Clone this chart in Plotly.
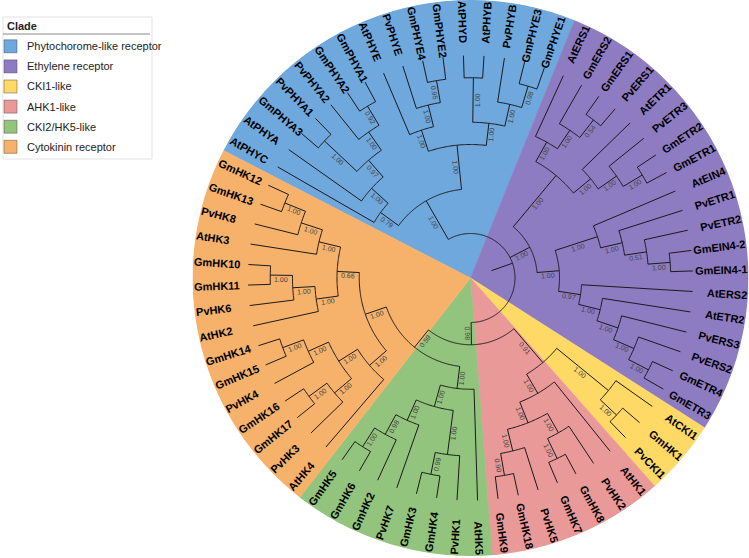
import math
import plotly.graph_objects as go

# ---------------- data ----------------
BLUE = ("((AtPHYC,(AtPHYA,((GmPHYA3,PvPHYA1)1.00,(PvPHYA2,(GmPHYA2,GmPHYA1)0.92)1.00)0.97)1.00)0.79,"
        "((AtPHYE,(PvPHYE,(GmPHYE4,GmPHYE2)0.95)1.00)1.00,((AtPHYD,AtPHYB)1.00,"
        "(PvPHYB,(GmPHYE3,GmPHYE1)0.98)1.00)1.00)1.00)1.00")
PURPLE = ("(((AtERS1,(GmERS2,(GmERS1,PvERS1)0.54)1.00)1.00,(AtETR1,(PvETR3,(GmETR2,GmETR1)1.00)1.00)1.00)1.00,"
          "((AtEIN4,(PvETR1,(PvETR2,(GmEIN4-2,GmEIN4-1)1.00)0.51)1.00)1.00,"
          "(AtERS2,(AtETR2,(PvERS3,(PvERS2,(GmETR4,GmETR3)1.00)1.00)1.00)1.00)0.97)1.00)1.00")
REST = ("(((AtCKI1,(GmHK1,PvCKI1)1.00)1.00,(AtHK1,((PvHK2,(GmHK8,GmHK7)1.00)1.00,"
        "(PvHK5,(GmHK18,GmHK9)0.90)1.00)1.00)1.00)0.91,"
        "((AtHK5,((PvHK1,(GmHK4,GmHK3)0.99)1.00,(PvHK7,(GmHK2,(GmHK6,GmHK5)1.00)0.98)1.00)1.00)1.00,"
        "((AtHK4,((PvHK3,(GmHK17,GmHK16)1.00)1.00,(PvHK4,(GmHK15,GmHK14)1.00)1.00)1.00)1.00,"
        "((AtHK2,(PvHK6,(GmHK11,GmHK10)1.00)1.00)1.00,(AtHK3,(PvHK8,(GmHK13,GmHK12)1.00)1.00)1.00)0.66)1.00)0.59)0.98")
NEWICK = "(" + BLUE + "," + PURPLE + "," + REST + ");"

CLADE_NAMES = ["Phytochorome-like receptor", "Ethylene receptor", "CKI1-like",
               "AHK1-like", "CKI2/HK5-like", "Cytokinin receptor"]
CLADE_COLORS = ["#6FA8DC", "#8E7CC3", "#FFD966", "#EA9999", "#93C47D", "#F6B26B"]
CLADE_SIZES = [16, 19, 3, 7, 8, 15]

# ---------------- geometry ----------------
W, H = 749, 558
CX, CY, R_OUT = 470.5, 278.0, 278.0
TIP_R = 222.5
STEP = 22.25
A0 = 297.3


def parse(s):
    pos = [0]

    def node():
        n = {"children": [], "name": "", "label": ""}
        if s[pos[0]] == "(":
            pos[0] += 1
            while True:
                n["children"].append(node())
                c = s[pos[0]]
                pos[0] += 1
                if c == ")":
                    break
            st = pos[0]
            while s[pos[0]] not in ",);":
                pos[0] += 1
            n["label"] = s[st:pos[0]]
        else:
            st = pos[0]
            while s[pos[0]] not in ",);":
                pos[0] += 1
            n["name"] = s[st:pos[0]]
        return n
    return node()


root = parse(NEWICK)
leaves = []


def walk(n):
    if not n["children"]:
        n["h"] = 0
        n["theta"] = A0 + (len(leaves) + 0.5) * 360.0 / 68
        leaves.append(n)
    else:
        for c in n["children"]:
            walk(c)
        n["h"] = max(c["h"] for c in n["children"]) + 1
        n["theta"] = sum(c["theta"] for c in n["children"]) / len(n["children"])


walk(root)


def rad(n):
    return TIP_R - STEP * n["h"]


lr, lt = [], []
boot = []


def seg(r0, r1, th):
    lr.extend([r0, r1, None])
    lt.extend([th, th, None])


def draw(n):
    if n["children"]:
        ths = [c["theta"] for c in n["children"]]
        a, b = min(ths), max(ths)
        k = max(2, int((b - a) / 0.5) + 1)
        for i in range(k + 1):
            lr.append(rad(n))
            lt.append(a + (b - a) * i / k)
        lr.append(None)
        lt.append(None)
        for c in n["children"]:
            seg(rad(n), rad(c), c["theta"])
            if c["label"]:
                boot.append(((rad(n) + rad(c)) / 2, c["theta"], c["label"]))
            draw(c)


draw(root)
seg(rad(root) - STEP, rad(root), root["theta"])


def to_px(r, th):
    t = math.radians(th)
    return CX + r * math.sin(t), CY - r * math.cos(t)


def to_paper(px, py):
    return px / W, 1 - py / H


def text_angle(th):
    th = th % 360
    return th - 90 if th < 180 else th - 270


WID = {'A': 722, 'B': 722, 'C': 722, 'D': 722, 'E': 667, 'G': 778, 'H': 722, 'I': 278,
       'K': 722, 'N': 722, 'P': 667, 'R': 722, 'S': 667, 'T': 611, 'Y': 667,
       'm': 889, 't': 333, 'v': 556, '-': 333, '.': 278}


def tw(s, size):
    return sum(WID.get(ch, 556) for ch in s) * size / 1000.0


fig = go.Figure()

# wedges
start = 0
for name, col, n in zip(CLADE_NAMES, CLADE_COLORS, CLADE_SIZES):
    a = A0 + start * 360.0 / 68
    b = A0 + (start + n) * 360.0 / 68
    fig.add_trace(go.Barpolar(r=[R_OUT], theta=[(a + b) / 2], width=[b - a], base=[0],
                              marker=dict(color=col, line=dict(width=0.6, color=col)),
                              name=name, showlegend=False, hoverinfo="skip"))
    start += n

fig.add_trace(go.Scatterpolar(r=lr, theta=lt, mode="lines", connectgaps=False,
                              line=dict(color="#1a1a1a", width=1), hoverinfo="skip",
                              showlegend=False))

annotations = []
for lf in leaves:
    th = lf["theta"]
    w = tw(lf["name"], 11)
    px, py = to_px(R_OUT - 1 - w / 2, th)
    x, y = to_paper(px, py)
    annotations.append(dict(x=x, y=y, xref="paper", yref="paper", text="<b>%s</b>" % lf["name"],
                            showarrow=False, xanchor="center", yanchor="middle",
                            textangle=text_angle(th),
                            font=dict(family="Liberation Sans, Arial", size=11, color="#000")))

for rm, th, lab in boot:
    ta = text_angle(th)
    t = math.radians(ta)
    px, py = to_px(rm, th)
    px += -math.sin(t) * 4.0
    py += math.cos(t) * 4.0
    x, y = to_paper(px, py)
    annotations.append(dict(x=x, y=y, xref="paper", yref="paper", text=lab,
                            showarrow=False, xanchor="center", yanchor="middle",
                            textangle=ta,
                            font=dict(family="Liberation Sans, Arial", size=7, color="#444")))

# legend (manual)
shapes = []


def P(px, py):
    return to_paper(px, py)


x0, y0 = P(3, 17)
x1, y1 = P(152, 159)
shapes.append(dict(type="rect", xref="paper", yref="paper", x0=x0, y0=y0, x1=x1, y1=y1,
                   line=dict(color="#e3e3e3", width=1), fillcolor="white", layer="above"))
lx0, ly = P(3, 34)
lx1, _ = P(150, 34)
shapes.append(dict(type="line", xref="paper", yref="paper", x0=lx0, y0=ly, x1=lx1, y1=ly,
                   line=dict(color="#888", width=1), layer="above"))
tx, ty = P(5, 26)
annotations.append(dict(x=tx, y=ty, xref="paper", yref="paper", text="<b>Clade</b>", showarrow=False,
                        xanchor="left", yanchor="middle",
                        font=dict(family="Liberation Sans, Arial", size=11, color="#222")))
for k, (name, col) in enumerate(zip(CLADE_NAMES, CLADE_COLORS)):
    cy = 46.3 + k * 20.1
    sx0, sy0 = P(4, cy - 6.5)
    sx1, sy1 = P(17, cy + 6.5)
    shapes.append(dict(type="rect", xref="paper", yref="paper", x0=sx0, y0=sy0, x1=sx1, y1=sy1,
                       line=dict(color="rgba(60,60,60,0.55)", width=0.8), fillcolor=col, layer="above"))
    ax, ay = P(25, cy)
    annotations.append(dict(x=ax, y=ay, xref="paper", yref="paper", text=name, showarrow=False,
                            xanchor="left", yanchor="middle",
                            font=dict(family="Liberation Sans, Arial", size=11, color="#222")))

fig.update_layout(
    width=W, height=H, margin=dict(l=0, r=0, t=0, b=0, pad=0),
    paper_bgcolor="white", plot_bgcolor="white",
    polar=dict(
        domain=dict(x=[(CX - R_OUT) / W, (CX + R_OUT) / W], y=[(H - CY - R_OUT) / H, (H - CY + R_OUT) / H]),
        bgcolor="rgba(0,0,0,0)", hole=0,
        angularaxis=dict(rotation=90, direction="clockwise", showgrid=False, showline=False,
                         showticklabels=False, ticks=""),
        radialaxis=dict(range=[0, R_OUT], visible=False, showgrid=False),
        barmode="overlay", bargap=0,
    ),
    annotations=annotations, shapes=shapes, showlegend=False,
)

fig.write_html("out.html", config={"displayModeBar": False},
               post_script="document.body.style.margin='0px';document.body.style.padding='0px';"
                           "document.body.style.overflow='hidden';")
